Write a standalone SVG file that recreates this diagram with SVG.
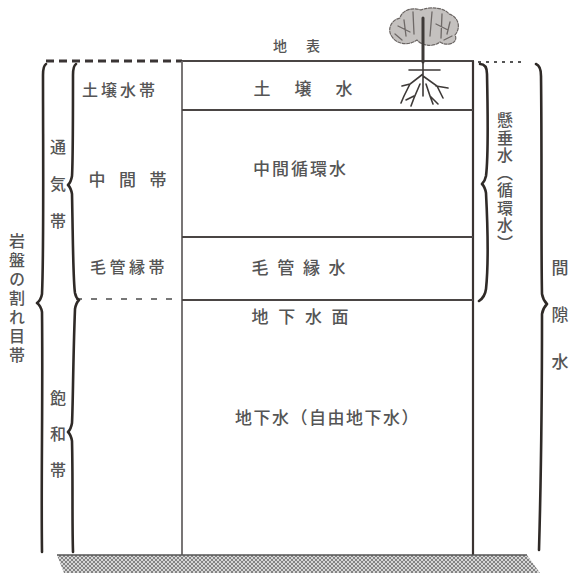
<svg xmlns="http://www.w3.org/2000/svg" width="574" height="576" viewBox="0 0 574 576">
  <style>
    .lbl { font-family: "Noto Sans CJK JP", "Noto Sans CJK SC", sans-serif; fill: #555; font-weight: 500; }
    .vt { writing-mode: vertical-rl; }
    .brace { fill: none; stroke: #2f2a27; stroke-width: 2.6; stroke-linecap: round; stroke-linejoin: round; }
    .rule { fill: none; stroke: #4a4544; stroke-width: 2.2; }
    .thin { fill: none; stroke: #6a6666; stroke-width: 1.8; }
  </style>
  <defs>
    <pattern id="gravel" width="4" height="4" patternUnits="userSpaceOnUse">
      <rect width="4" height="4" fill="#d6d6d6"/>
      <path d="M0,0 L4,4 M4,0 L0,4" stroke="#7a7a7a" stroke-width="0.9"/>
    </pattern>
  </defs>
  <rect width="574" height="576" fill="#ffffff"/>

  <g id="connectors">
    <!-- ground surface -->
    <line x1="46" y1="61" x2="182" y2="61" stroke="#3a3535" stroke-width="3" stroke-dasharray="8 5"/>
    <line x1="182" y1="61" x2="474" y2="61" class="rule"/>
    <line x1="478" y1="62" x2="522" y2="62" stroke="#555" stroke-width="2" stroke-dasharray="3 5"/>
    <!-- column edges -->
    <line x1="182" y1="61" x2="182" y2="556" class="thin"/>
    <line x1="473" y1="61" x2="473" y2="556" stroke="#3a3331" stroke-width="2.2"/>
    <!-- layer boundaries -->
    <line x1="182" y1="110" x2="473" y2="110" class="rule"/>
    <line x1="182" y1="237" x2="473" y2="237" class="rule"/>
    <line x1="182" y1="300" x2="473" y2="300" class="rule"/>
    <line x1="76" y1="299" x2="182" y2="299" stroke="#777" stroke-width="1.8" stroke-dasharray="6 9"/>
    <!-- left braces -->
    <path class="brace" d="M46,64 Q43,66 43,75 C43,150 44,250 42,294 Q41,300 37,303 Q41,306 42,312 C43,400 41,480 42,552"/>
    <path class="brace" d="M76,64 Q73,66 73,75 C73,120 73,160 72,176 Q71,182 68,185 Q71,188 72,194 C73,240 73,280 75,293 Q76,298 79,300 Q76,303 75,309 C73,360 73,405 72,423 Q71,429 68,432 Q71,435 72,441 C73,480 72,520 73,552"/>
    <!-- right braces -->
    <path class="brace" d="M480,64 Q487,64 487,74 C488,120 488,160 486,176 Q485,181 482,184 Q485,187 486,193 C488,232 488,270 486,289 Q485,297 479,301"/>
    <path class="brace" d="M536,64 Q541,66 541,76 C542,150 541,250 542,294 Q543,300 547,304 Q543,308 542,314 C542,400 541,480 539,550"/>
    <!-- bedrock -->
    <polygon points="57,555 527,555 540,573 64,573" fill="url(#gravel)"/>
    <line x1="57" y1="555" x2="527" y2="555" stroke="#555" stroke-width="1.6"/>
  </g>

  <g id="tree" stroke="#3e3a38" stroke-linecap="round">
    <!-- crown -->
    <path d="M393,38 C386,30 391,20 400,18 C402,10 412,7 421,10 C431,6 445,8 449,14 C459,17 461,28 455,35 C459,43 447,47 440,42 C432,48 421,45 417,40 C409,46 397,44 393,38 Z" fill="#c4c1bf" stroke="#6a6563" stroke-width="1.2" stroke-dasharray="3 1.5"/>
    <path d="M404,20 L406,36 M413,12 L414,34 M432,12 L430,36 M442,14 L441,38 M450,22 L447,34 M398,26 L410,32 M436,24 L448,30 M395,34 L402,40 M444,40 L452,36" fill="none" stroke="#6e6967" stroke-width="1.3"/>
    <!-- trunk -->
    <path d="M423,18 L423,62" fill="none" stroke-width="3"/>
    <!-- roots -->
    <path d="M423,62 L423,96 M409,70 L440,70 M423,74 L410,84 L404,96 L401,103 M423,76 L437,86 L443,98 M436,86 L448,88 M420,84 L414,98 L411,106 M426,84 L430,96 L433,104 M410,84 L402,86 M414,96 L406,100 M430,96 L438,104" fill="none" stroke-width="1.6"/>
  </g>

  <g id="surface-label"><text class="lbl" x="273" y="51" font-size="14" letter-spacing="19">地表</text></g>

  <g id="soil-water-zone"><text class="lbl" x="82" y="96" font-size="16" letter-spacing="3">土壌水帯</text></g>
  <g id="soil-water"><text class="lbl" x="253.5" y="95" font-size="17" letter-spacing="24">土壌水</text></g>

  <g id="intermediate-zone"><text class="lbl" x="88.5" y="186" font-size="17" letter-spacing="13.5">中間帯</text></g>
  <g id="intermediate-water"><text class="lbl" x="253" y="175" font-size="17" letter-spacing="2">中間循環水</text></g>

  <g id="capillary-zone"><text class="lbl" x="90" y="273" font-size="16" letter-spacing="3.5">毛管縁帯</text></g>
  <g id="capillary-water"><text class="lbl" x="251.5" y="274" font-size="17" letter-spacing="8.7">毛管縁水</text></g>

  <g id="water-table"><text class="lbl" x="251.5" y="323" font-size="17" letter-spacing="9.7">地下水面</text></g>
  <g id="groundwater"><text class="lbl" x="235" y="424" font-size="17" letter-spacing="1.5">地下水（自由地下水）</text></g>

  <g id="aeration-zone"><text class="lbl vt" x="58" y="139" font-size="16" letter-spacing="21">通気帯</text></g>
  <g id="saturated-zone"><text class="lbl vt" x="58" y="390" font-size="16" letter-spacing="20">飽和帯</text></g>
  <g id="fracture-zone"><text class="lbl vt" x="17" y="233" font-size="16" letter-spacing="3">岩盤の割れ目帯</text></g>

  <g id="suspended-water"><text class="lbl vt" x="505" y="112" font-size="16" letter-spacing="1.5">懸垂水（循環水）</text></g>
  <g id="pore-water"><text class="lbl vt" x="560" y="259.5" font-size="17" letter-spacing="30">間隙水</text></g>
</svg>
